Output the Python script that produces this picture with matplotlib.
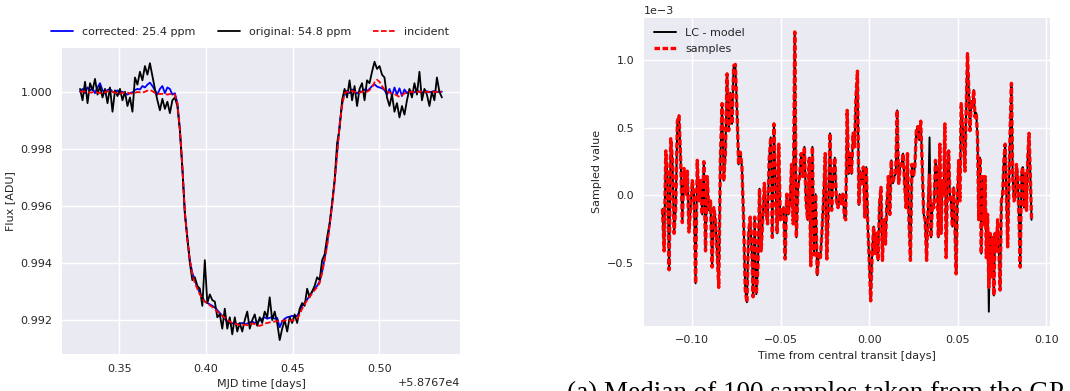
import numpy as np
import matplotlib
matplotlib.use("Agg")
import matplotlib.pyplot as plt

# ---------------------------------------------------------------- data
# Light curve around the transit (deviation from 1 in ppm), evenly sampled
mjd_start, mjd_end = 58767.3275, 58767.5360

incident_ppm = [
    0, 10, 0, -20, -30, -20, -10, -30, -50, -40, -20, 10, 20, 0, -30, -60, -70, -40, -20, -30,
    -60, -60, -40, -10, -20, -30, 0, 40, 60, 20, -40, -60, -80, -70, -80, -100, -80, -70, -100, -400,
    -1300, -2600, -4200, -5200, -5900, -6400, -6700, -6900, -7100, -7250, -7350, -7420, -7480, -7540,
    -7620, -7700, -7780, -7850, -7920, -7980, -8050, -8100, -8120, -8150, -8180, -8170, -8160, -8180,
    -8150, -8120, -8140, -8180, -8200, -8170, -8120, -8100, -8080, -8060, -8050, -8040, -8020, -8030,
    -8010, -8000, -8020, -8010, -8000, -7950, -7800, -7600, -7450, -7300, -7180, -7060, -6950, -6850,
    -6700, -6350, -5900, -5400, -4700, -4000, -3200, -2200, -1200, -500, -50, 0, -20, 30, 0, -30,
    -40, 0, 20, 0, 60, 150, 330, 420, 350, 200, 80, 10, -30, -60, -80, -130, -180, -120, -60, -20,
    -10, 0, -20, -10, 0, 10, 0, -10, 0, 10, -10, 0, 10, 0,
]

corrected_ppm = [
    0, 100, -50, 150, 50, 120, -50, 150, 300, 50, -60, 60, 100, 0, -30, 50, -80, 0, -60, -100,
    -50, -20, 60, 100, 80, 200, 150, 250, 320, 200, 50, -100, 100, 200, -50, 150, 100, -100, -50, -400,
    -1300, -2650, -4200, -5150, -5900, -6350, -6600, -6850, -7050, -7200, -7350, -7400, -7450, -7500,
    -7560, -7650, -7750, -7850, -7950, -8050, -8100, -8120, -8100, -8150, -8120, -8100, -8150, -8120,
    -8080, -8050, -8100, -8080, -8000, -7950, -7900, -7950, -7920, -7900, -7950, -7920, -8250, -8050,
    -7950, -7900, -7880, -7850, -7880, -7850, -7700, -7500, -7400, -7280, -7150, -7000, -6900, -6800,
    -6650, -6300, -5850, -5350, -4700, -3950, -3150, -2150, -1150, -450, 0, 30, -50, 80, 0, -60,
    20, 0, 80, 30, 100, 200, 260, 180, 150, 120, 60, -100, 100, -150, 150, -100, 120, -150, 80, -50,
    30, 0, -20, 50, 0, -30, 10, 20, -20, 0, 30, -10, 0, 0,
]

original_ppm = [
    100, -300, 350, -400, 300, 50, 450, -100, 200, -200, 100, -400, 150, -700, 50, -150, 100, -300, 0, -500,
    -200, -700, 500, 250, 700, 400, 900, 600, 1000, 550, 100, -300, -650, -250, -600, -350, -750, -300, -200, -500,
    -1350, -2700, -4300, -5100, -6000, -6600, -6500, -6800, -6900, -7500, -5900, -7400, -7100, -7300,
    -7350, -7900, -7800, -8300, -7600, -8300, -7900, -8500, -7900, -8400, -8100, -8400, -8000, -7700,
    -8300, -8000, -7800, -8200, -7900, -8100, -7700, -7900, -7200, -8000, -7700, -8100, -8700, -8300,
    -8000, -8400, -7900, -8100, -7800, -8100, -7600, -7400, -7500, -6900, -7200, -7000, -6800, -6500,
    -6600, -5900, -5700, -5100, -4600, -3900, -3100, -1800, -1300, -300, 100, -200, 400, -300, 200, -500,
    100, 300, -300, 400, 300, 700, 1050, 800, 900, 600, 500, -200, -500, -100, -700, -400, -900, -500,
    -800, -300, 100, -200, 300, -100, 700, -300, 100, -100, -500, 0, -300, 500, 0, -200,
]

corrected_rms_ppm = 25.4
original_rms_ppm = 54.8

# Residuals of the light curve minus the transit model (units of 1e-3),
# listed in four consecutive stretches of time
stretch_spans = [(-0.1168, -0.0663), (-0.0656, -0.0140), (-0.0133, 0.0399), (0.0406, 0.0917)]

resid_1 = [
    -0.10, -0.41, 0.33, 0.14, -0.55, 0.42, 0.26, -0.28, -0.09, 0.55, 0.59, 0.26, -0.20, 0.20, 0.01,
    0.18, -0.27, -0.09, 0.11, 0.01, -0.65, 0.26, -0.04, 0.11, -0.14, 0.25, -0.41, 0.14, -0.11, -0.04,
    -0.53, -0.09, -0.18, -0.43, -0.68, 0.28, 0.68, 0.11, 0.31, 0.90, 0.48, 0.76, 0.53, 0.96, 0.97,
    0.63, 0.23, 0.32, 0.21, -0.18, -0.70, -0.79, -0.28, -0.16, -0.43,
]
resid_2 = [
    -0.75, -0.16, -0.73, -0.53, 0.05, -0.41, -0.18, 0.09, -0.11, -0.21, 0.26, 0.43, -0.31, 0.53, 0.06,
    -0.28, 0.38, -0.18, -0.11, -0.09, -0.47, 0.01, -0.14, -0.06, 0.23, -0.21, 1.21, -0.31, 0.06, 0.14,
    0.31, 0.14, 0.36, -0.04, -0.18, 0.28, -0.52, 0.36, -0.44, 0.01, -0.59, -0.43, -0.46, -0.26, -0.01,
    0.31, -0.47, -0.09, 0.46, -0.11, 0.14, 0.28, -0.04, -0.09, 0.01, -0.06, 0.01, -0.16,
]
resid_3 = [
    -0.18, 0.63, 0.16, 0.31, 0.16, 0.46, 0.36, 0.73, 0.92, -0.07, 0.18, 0.09, 0.21, -0.16, 0.21,
    -0.21, -0.48, -0.78, -0.43, -0.23, -0.43, -0.28, -0.48, -0.06, 0.06, -0.48, -0.18, -0.36, -0.06,
    0.14, -0.14, 0.26, 0.09, 0.14, 0.16, 0.63, 0.09, 0.21, 0.23, 0.31, 0.09, -0.09, 0.31, -0.18,
    -0.48, 0.23, 0.14, 0.21, 0.48, 0.51, 0.41, 0.55, 0.23, -0.14, -0.18, -0.48, -0.09, 0.43, -0.31,
    -0.06, -0.09, 0.26, 0.18, -0.31, 0.38,
]
resid_4 = [
    -0.28, 0.11, 0.01, 0.53, -0.46, 0.06, 0.33, 0.01, -0.06, -0.23, 0.06, -0.23, -0.58, -0.01, 0.26,
    -0.04, 0.68, 0.55, 0.36, 0.18, 0.65, 1.05, 0.80, 0.48, 0.70, 0.65, 0.78, 0.58, 0.61, 0.43, -0.18,
    0.28, -0.43, 0.14, -0.21, 0.14, -0.46, -0.14, -0.86, -0.28, -0.60, -0.31, -0.74, -0.28, -0.41,
    -0.18, -0.41, -0.70, -0.04, 0.01, 0.26, 0.38, 0.01, -0.38, 0.06, 0.50, 0.83, 0.14, -0.04, -0.01,
    0.23, 0.14, -0.16, -0.53, 0.16, 0.21, -0.09, 0.16, -0.11, 0.28, 0.46, 0.16, -0.18,
]
# points where the median of the GP samples departs from the residuals
gp_departures = [(2, 57, 0.15), (3, 38, -0.68)]

caption = "(a) Median of 100 samples taken from the GP"

# ---------------------------------------------------------------- style
plt.style.use("seaborn-v0_8")
plt.rcParams.update({
    "font.family": ["DejaVu Sans"],
    "xtick.labelsize": 8,
    "ytick.labelsize": 8,
    "axes.labelsize": 8,
    "legend.fontsize": 8,
    "lines.scale_dashes": False,
    "text.color": "0.15",
    "axes.labelcolor": "0.15",
    "xtick.color": "0.15",
    "ytick.color": "0.15",
})

fig = plt.figure(figsize=(10.70, 3.91), dpi=100)
ax1 = fig.add_axes([0.0579, 0.0946, 0.372, 0.783])
ax2 = fig.add_axes([0.6019, 0.167, 0.3794, 0.787])

# ---------------------------------------------------------------- left: light curves
mjd = np.linspace(mjd_start, mjd_end, len(incident_ppm))
flux_inc = 1 + np.array(incident_ppm) * 1e-6
flux_cor = 1 + np.array(corrected_ppm) * 1e-6
flux_org = 1 + np.array(original_ppm) * 1e-6

dash = (0, (4.0, 1.8))
ax1.plot(mjd, flux_cor, color="blue", lw=1.3, label=f"corrected: {corrected_rms_ppm} ppm")
ax1.plot(mjd, flux_org, color="black", lw=1.3, label=f"original: {original_rms_ppm} ppm")
ax1.plot(mjd, flux_inc, color="red", lw=1.3, ls=dash, label="incident")
ax1.set_xlabel("MJD time [days]")
ax1.set_ylabel("Flux [ADU]")
ax1.set_yticks([0.992, 0.994, 0.996, 0.998, 1.000])
ax1.yaxis.set_major_formatter(plt.FormatStrFormatter("%.3f"))
fig.legend(*ax1.get_legend_handles_labels(), loc="center",
           bbox_to_anchor=(250 / 1070, 1 - 32 / 391), ncol=3, frameon=False,
           columnspacing=2.0, handlelength=2.0)

# ---------------------------------------------------------------- right: residuals and GP samples
stretches = [resid_1, resid_2, resid_3, resid_4]
t_rel = np.concatenate([np.linspace(a, b, len(s)) for (a, b), s in zip(stretch_spans, stretches)])
lc_resid = np.concatenate(stretches) * 1e-3
gp_median = [list(s) for s in stretches]
for k, idx, val in gp_departures:
    gp_median[k][idx] = val
gp_median = np.concatenate(gp_median) * 1e-3

ax2.plot(t_rel, lc_resid, color="black", lw=1.4, label="LC - model")
ax2.plot(t_rel, gp_median, color="red", lw=2.4, ls=dash, label="samples")
ax2.set_xlabel("Time from central transit [days]")
ax2.set_ylabel("Sampled value")
ax2.ticklabel_format(axis="y", style="sci", scilimits=(0, 0))
ax2.yaxis.get_offset_text().set_fontsize(8)
ax2.legend(loc="upper left", frameon=False)

fig.text(567 / 1070, -9 / 391, caption,
         family=["Liberation Serif", "DejaVu Serif"], fontsize=19.5, color="black",
         va="baseline", ha="left")

fig.savefig("out.png", dpi=100)
